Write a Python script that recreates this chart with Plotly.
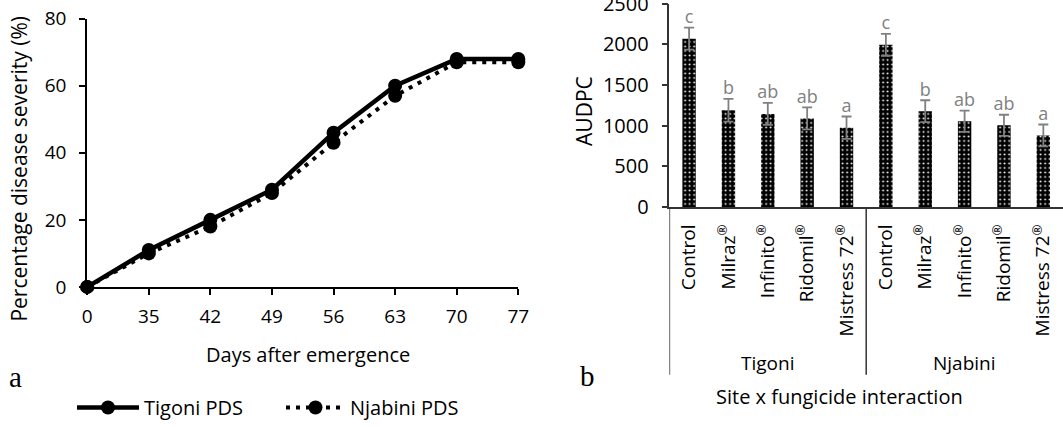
import plotly.graph_objects as go

# ---- Panel a data ----
days = ["0", "35", "42", "49", "56", "63", "70", "77"]
tigoni_pds = [0, 11, 20, 29, 46, 60, 68, 68]
njabini_pds = [0, 10, 18, 28, 43, 57, 67, 67]

# ---- Panel b data ----
fungicides = ["Control", "Milraz<sup>®</sup>", "Infinito<sup>®</sup>", "Ridomil<sup>®</sup>", "Mistress 72<sup>®</sup>"]
sites = ["Tigoni", "Njabini"]
audpc_tigoni = [2070, 1190, 1145, 1090, 975]
audpc_njabini = [1995, 1178, 1055, 1005, 880]
err_tigoni = [135, 140, 135, 135, 138]
err_njabini = [135, 135, 130, 130, 135]
letters_tigoni = ["c", "b", "ab", "ab", "a"]
letters_njabini = ["c", "b", "ab", "ab", "a"]

FONT = "Open Sans"
SERIF = "Liberation Serif"
W, H = 1063, 427

audpc = audpc_tigoni + audpc_njabini
errs = err_tigoni + err_njabini
letters = letters_tigoni + letters_njabini
labels = fungicides + fungicides
xpos = list(range(len(audpc)))


def px_x(v):
    return v / W


def px_y(v):
    return 1 - v / H


fig = go.Figure()

fig.add_trace(go.Scatter(
    x=days, y=tigoni_pds, name="Tigoni PDS", mode="lines+markers",
    line=dict(color="black", width=4.5), marker=dict(color="black", size=14),
    cliponaxis=False, xaxis="x", yaxis="y", legend="legend"))
fig.add_trace(go.Scatter(
    x=days, y=njabini_pds, name="Njabini PDS", mode="lines+markers",
    line=dict(color="black", width=4, dash="4px,6px"), marker=dict(color="black", size=14),
    cliponaxis=False, xaxis="x", yaxis="y", legend="legend2"))

fig.add_trace(go.Bar(
    x=xpos, y=audpc, width=0.34, showlegend=False,
    marker=dict(color="black", line=dict(width=0),
                pattern=dict(shape=".", fgcolor="white", bgcolor="black", size=4.5, solidity=0.15)),
    error_y=dict(type="data", array=errs, visible=True, color="#808080", thickness=1.8, width=5),
    xaxis="x2", yaxis="y2"))
fig.add_trace(go.Scatter(
    x=xpos, y=[a + e for a, e in zip(audpc, errs)], text=letters, mode="text",
    textposition="top center", textfont=dict(family=FONT, size=18, color="#7f7f7f"),
    showlegend=False, cliponaxis=False, xaxis="x2", yaxis="y2"))

shapes = [
    dict(type="line", xref="x2", yref="paper", x0=-0.5, x1=-0.5, y0=px_y(210), y1=px_y(380),
         line=dict(color="#333", width=1.5)),
    dict(type="line", xref="x2", yref="paper", x0=4.5, x1=4.5, y0=px_y(210), y1=px_y(380),
         line=dict(color="#333", width=1.5)),
]


def ann(text, x, y, size, family=FONT, angle=0, xref="paper"):
    return dict(text=text, x=x, y=y, xref=xref, yref="paper", xanchor="center", yanchor="middle",
                textangle=angle, showarrow=False, font=dict(family=family, size=size, color="black"))


annotations = [
    ann("Percentage disease severity (%)", px_x(19), px_y(171), 21, angle=-90),
    ann("Days after emergence", px_x(307.6), px_y(360), 20),
    ann("a", px_x(15), px_y(382), 29, family=SERIF),
    ann("AUDPC", px_x(584), px_y(112.5), 21, angle=-90),
    ann("b", px_x(587.5), px_y(381.5), 29, family=SERIF),
    ann("Site x fungicide interaction", px_x(839), px_y(401.7), 20),
]
for i, s in enumerate(sites):
    annotations.append(ann(s, 2 + 5 * i, px_y(368.3), 19, xref="x2"))

axis_common = dict(showgrid=False, zeroline=False, automargin=False, ticks="outside", ticklen=6,
                   tickwidth=1.5, ticklabeloverflow="allow")
legend_common = dict(orientation="h", yanchor="middle", xanchor="left",
                     font=dict(family=FONT, size=20, color="black"),
                     bgcolor="rgba(0,0,0,0)", borderwidth=0)

fig.update_layout(
    template="none",
    width=W, height=H, margin=dict(l=0, r=0, t=0, b=0, pad=0),
    paper_bgcolor="white", plot_bgcolor="white",
    font=dict(family=FONT, size=19, color="black"),
    showlegend=True,
    legend=dict(x=px_x(72), y=px_y(413.3), itemwidth=62, **legend_common),
    legend2=dict(x=px_x(281), y=px_y(413.3), itemwidth=59, **legend_common),
    xaxis=dict(domain=[px_x(87.2), px_x(518.3)], type="category", range=[0, 7],
               showline=True, linecolor="black", linewidth=2, tickcolor="black",
               tickfont=dict(size=19), ticklabelstandoff=5, anchor="y", **axis_common),
    yaxis=dict(domain=[px_y(291), px_y(19)], range=[0, 80], dtick=20,
               showline=True, linecolor="black", linewidth=2, tickcolor="black",
               tickfont=dict(size=19), ticklabelstandoff=9, anchor="x", **axis_common),
    xaxis2=dict(domain=[px_x(669.4), 1.0], range=[-0.5, 9.5],
                tickvals=xpos, ticktext=labels, tickangle=-90,
                showline=True, linecolor="#333", linewidth=1.5, tickcolor="rgba(0,0,0,0)",
                tickfont=dict(size=19), ticklabelstandoff=2, anchor="y2", **axis_common),
    yaxis2=dict(domain=[px_y(210), px_y(3.75)], range=[0, 2500], dtick=500,
                showline=True, linecolor="#333", linewidth=1.5, tickcolor="#333",
                tickfont=dict(size=20), ticklabelstandoff=9, anchor="x2", **axis_common),
    shapes=shapes, annotations=annotations,
)

fig.write_html("out.html", config={"displayModeBar": False},
               post_script="document.body.style.margin='0';document.body.style.overflow='hidden';")
